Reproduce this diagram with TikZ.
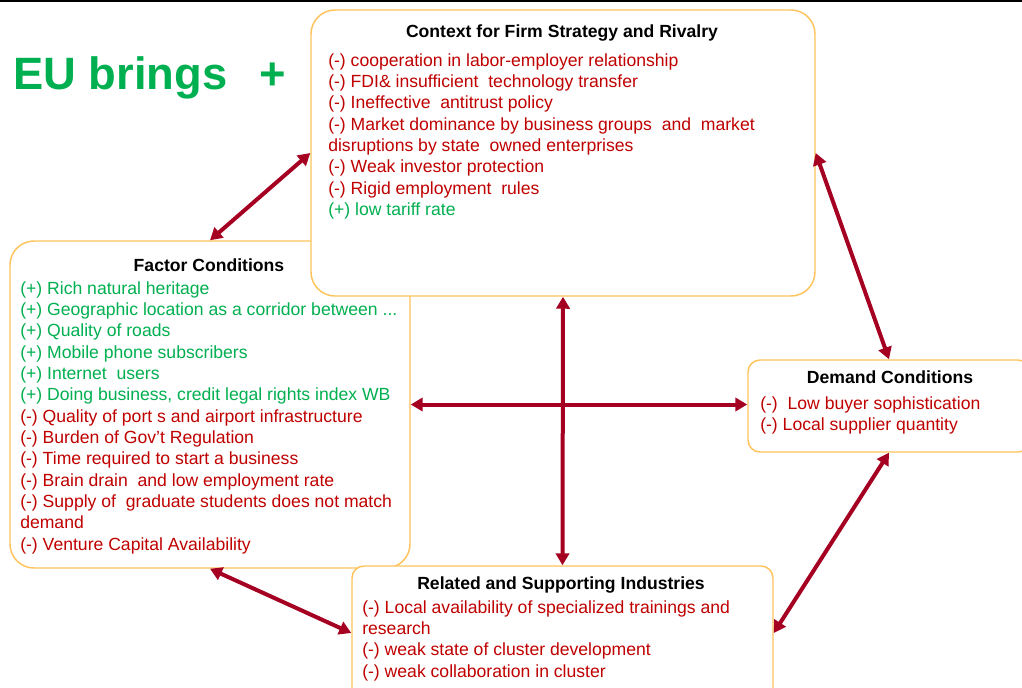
\documentclass[tikz,border=0pt]{standalone}
\usepackage{fontspec}
\setmainfont{Liberation Sans}
\usetikzlibrary{fit,arrows.meta}
\definecolor{frame}{HTML}{FFC35C}
\definecolor{neg}{HTML}{C00000}
\definecolor{pos}{HTML}{00B050}
\definecolor{arrowred}{HTML}{A50021}
\tikzset{
  box/.style={draw=frame, line width=1.1pt, fill=white, inner sep=0pt, rounded corners=18pt},
  smallbox/.style={box, rounded corners=9pt},
  ttl/.style={font=\fontsize{13.2}{15}\selectfont\bfseries, text=black},
  body/.style={font=\fontsize{13.2}{16}\selectfont, text=neg, align=left, anchor=north west, inner sep=0pt},
  dbl/.style={draw=arrowred, line width=3pt, {Triangle[length=9pt,width=10pt]}-{Triangle[length=9pt,width=10pt]}},
  slogan/.style={font=\fontsize{34}{38}\selectfont\bfseries, text=pos, anchor=west, inner sep=0pt}
}

\begin{document}
\begin{tikzpicture}[x=0.75pt, y=-0.75pt]
  \useasboundingbox (0,0) rectangle (1022,687);
  \draw[line width=1.5pt] (0,1) -- (1022,1);

  % the four boxes of the diamond
  \node[box, fit={(10,241) (410,568)}] (fac) {};
  \node[box, fit={(311,10) (815,296)}] (ctx) {};
  \node[smallbox, fit={(748,360) (1030,452)}] (dem) {};
  \node[smallbox, fit={(352,566) (773,700)}] (rel) {};

  \node[slogan] (eu) at (13,78) {EU brings\hspace{24pt}+};

  \node[ttl] (ctxttl) at (562,33) {Context for Firm Strategy and Rivalry};
  \node[body] (ctxtxt) at (328,53) {%
    (-) cooperation in labor-employer relationship\\
    (-) FDI\& insufficient\ \ technology transfer\\
    (-) Ineffective\ \ antitrust policy\\
    (-) Market dominance by business groups\ \ and\ \ market\\
    disruptions by state\ \ owned enterprises\\
    (-) Weak investor protection\\
    (-) Rigid employment\ \ rules\\
    \textcolor{pos}{(+) low tariff rate}};

  \node[ttl] (facttl) at (209,265) {Factor Conditions};
  \node[body] (factxt) at (20,281) {%
    \textcolor{pos}{(+) Rich natural heritage}\\
    \textcolor{pos}{(+) Geographic location as a corridor between ...}\\
    \textcolor{pos}{(+) Quality of roads}\\
    \textcolor{pos}{(+) Mobile phone subscribers}\\
    \textcolor{pos}{(+) Internet\ \ users}\\
    \textcolor{pos}{(+) Doing business, credit legal rights index WB}\\
    (-) Quality of port s and airport infrastructure\\
    (-) Burden of Gov't Regulation\\
    (-) Time required to start a business\\
    (-) Brain drain\ \ and low employment rate\\
    (-) Supply of\ \ graduate students does not match\\
    demand\\
    (-) Venture Capital Availability};

  \node[ttl] (demttl) at (890,377) {Demand Conditions};
  \node[body] (demtxt) at (760,396) {%
    (-)\ \ Low buyer sophistication\\
    (-) Local supplier quantity};

  \node[ttl] (relttl) at (561,585) {Related and Supporting Industries};
  \node[body] (reltxt) at (362,600) {%
    (-) Local availability of specialized trainings and\\
    research\\
    (-) weak state of cluster development\\
    (-) weak collaboration in cluster};

  % links
  \draw[dbl] (ctx.west) -- (fac.north);
  \draw[dbl] (ctx.east) -- (dem.north);
  \draw[dbl] (ctx.south) -- (rel.north);
  \draw[dbl] (fac.east) -- (fac.east -| dem.west);
  \draw[dbl] (fac.south) -- (rel.west);
  \draw[dbl] (dem.south) -- (rel.east);
\end{tikzpicture}
\end{document}
